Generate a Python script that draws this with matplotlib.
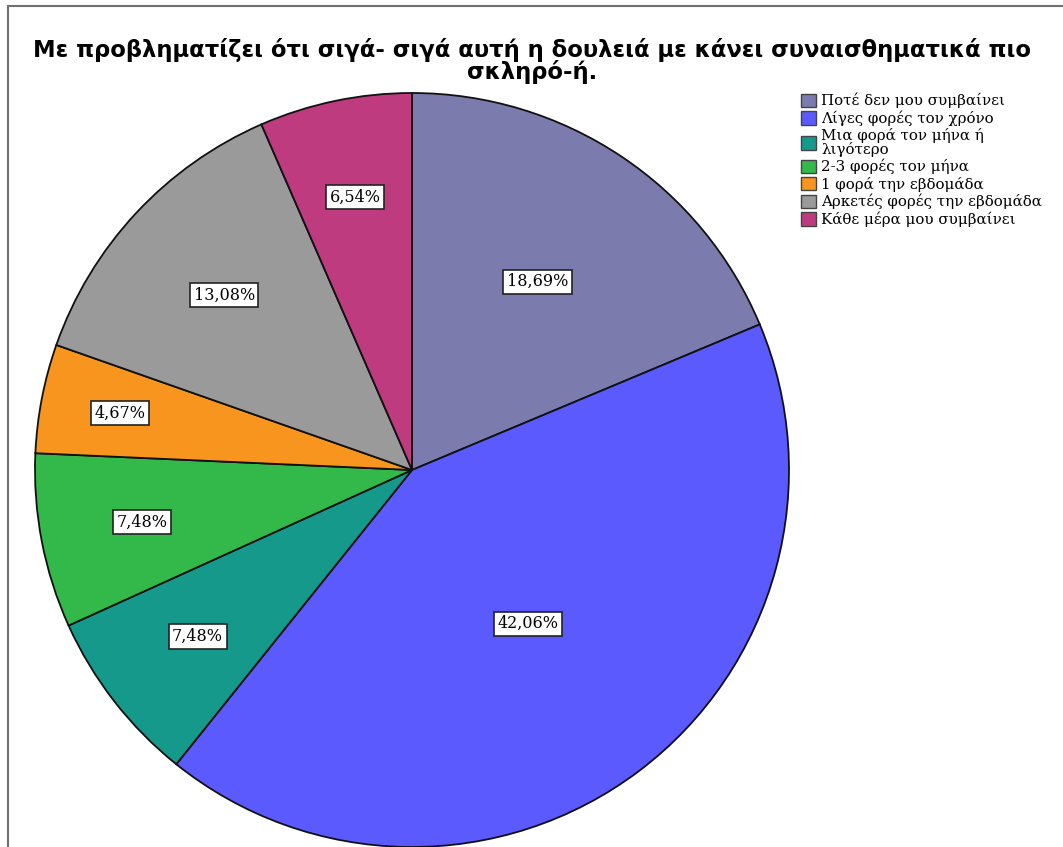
import numpy as np
import matplotlib
matplotlib.use("Agg")
import matplotlib.pyplot as plt
from matplotlib.patches import Rectangle

title = "Με προβληματίζει ότι σιγά- σιγά αυτή η δουλειά με κάνει συναισθηματικά πιο\nσκληρό-ή."
categories = [
    "Ποτέ δεν μου συμβαίνει",
    "Λίγες φορές τον χρόνο",
    "Μια φορά τον μήνα ή\nλιγότερο",
    "2-3 φορές τον μήνα",
    "1 φορά την εβδομάδα",
    "Αρκετές φορές την εβδομάδα",
    "Κάθε μέρα μου συμβαίνει",
]
percentages = [18.69, 42.06, 7.48, 7.48, 4.67, 13.08, 6.54]
colors = ["#7B7BAD", "#5A5AFF", "#14998A", "#33B84A", "#F7951E", "#9A9A9A", "#BD3B7E"]
label_dist = [0.60, 0.51, 0.72, 0.73, 0.79, 0.68, 0.74]

W, H = 1063, 847
fig = plt.figure(figsize=(W / 100, H / 100), dpi=100)
fig.patch.set_facecolor("white")

# outer frame (cropped at right/bottom)
fig.add_artist(Rectangle((8 / W, -0.1), 1.2, (H - 6) / H + 0.1, transform=fig.transFigure,
                         fill=False, edgecolor="#707070", linewidth=1.5))

cx, cy, r = 412, 470, 377
ax = fig.add_axes([(cx - r) / W, (H - cy - r) / H, 2 * r / W, 2 * r / H])
wedges, _ = ax.pie(percentages, colors=colors, startangle=90, counterclock=False,
                   wedgeprops=dict(edgecolor="#111111", linewidth=1.3))
ax.set_xlim(-1, 1)
ax.set_ylim(-1, 1)
ax.set_aspect("equal")
ax.axis("off")

cum = np.cumsum([0] + percentages[:-1])
for p, c0, d in zip(percentages, cum, label_dist):
    ang = np.deg2rad(90 - (c0 + p / 2) * 3.6)
    ax.text(d * np.cos(ang), d * np.sin(ang), f"{p:.2f}%".replace(".", ","),
            ha="center", va="center", fontsize=11.5, family="DejaVu Serif",
            bbox=dict(boxstyle="square,pad=0.22", facecolor="white", edgecolor="#222222", linewidth=1.2))

fig.text(532 / W, 1 - 61 / H, title, ha="center", va="center", fontsize=16.3,
         fontweight="bold", family="DejaVu Sans", linespacing=0.92)

handles = [Rectangle((0, 0), 1, 1, facecolor=c, edgecolor="#444444", linewidth=1) for c in colors]
leg = fig.legend(handles, categories, loc="upper left", bbox_to_anchor=(801 / W, 1 - 93 / H),
                 frameon=False, prop={"family": "DejaVu Serif", "size": 10.8},
                 handlelength=1.0, handleheight=1.0, handletextpad=0.35, labelspacing=0.15,
                 borderaxespad=0, borderpad=0)
for t in leg.get_texts():
    t.set_linespacing(0.85)

fig.savefig("out.png", dpi=100)
